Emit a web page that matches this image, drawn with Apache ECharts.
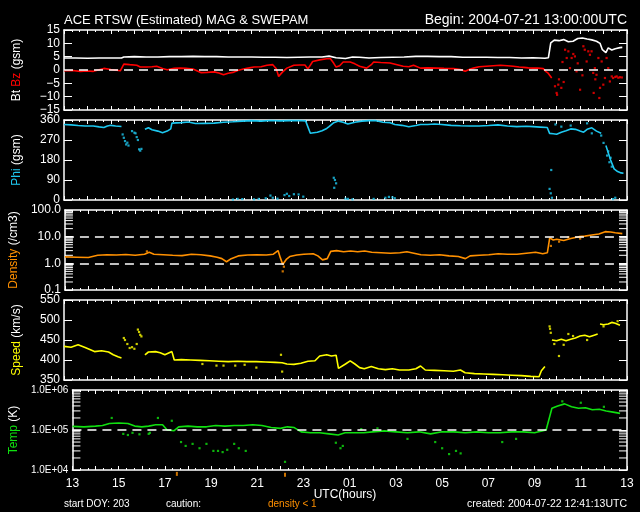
<!DOCTYPE html>
<html><head><meta charset="utf-8">
<script src="https://cdn.jsdelivr.net/npm/echarts@6/dist/echarts.min.js"></script>
<style>html,body{margin:0;padding:0;background:#000}#c{width:640px;height:512px}</style>
</head><body><div id="c"></div>
<script>
// ---- data (hours since 2004-07-21 13:00 UTC) ----
const hourLabels = ['13','15','17','19','21','23','01','03','05','07','09','11','13'];
const btData = [[0,4.5],[0.5,4.5],[1,4.4],[1.5,4.5],[2,4.5],[2.45,4.5],[2.55,4.9],[3,5.0],[3.5,4.9],[4,4.9],[4.5,5.0],[5,5.0],[5.5,5.1],[6,5.0],[6.5,5.0],[7,4.9],[7.5,4.9],[8,4.9],[8.5,4.8],[9,4.8],[9.5,4.7],[10,4.8],[10.5,4.9],[11,4.9],[11.3,5.2],[11.6,4.6],[12,4.3],[12.3,4.9],[12.6,4.8],[13,4.5],[13.5,4.7],[14,4.8],[14.5,4.9],[15,5.1],[15.5,5.1],[16,5.0],[16.5,5.0],[17,4.8],[17.5,4.8],[18,4.8],[18.5,4.7],[19,4.7],[19.5,4.5],[20,4.6],[20.5,4.4],[20.65,4.6],[20.75,10.2],[20.9,11.2],[21.1,11.0],[21.3,11.4],[21.5,10.6],[21.7,10.8],[21.9,11.8],[22.1,12.0],[22.3,11.6],[22.5,11.3],[22.7,10.8],[22.85,10.0],[22.95,7.6],[23.1,6.5],[23.2,8.3],[23.35,7.5],[23.5,8.0],[23.7,8.4],[23.8,8.5]];
const bzData = [[0,-0.3],[0.35,-0.2],[0.7,-0.5],[1.0,-0.4],[1.25,-0.5],[1.5,0.1],[1.7,0.6],[2.0,0.2],[2.4,-0.3],[2.55,2.2],[2.8,2.0],[3.1,1.8],[3.25,1.1],[3.5,1.1],[3.75,1.2],[3.95,1.4],[4.2,0.6],[4.4,0.1],[4.7,0.6],[4.95,0.7],[5.2,0.6],[5.5,0.4],[5.85,-1.0],[6.1,-0.9],[6.4,-0.7],[6.6,-1.1],[6.8,-1.8],[7.0,-1.2],[7.2,-0.9],[7.4,-0.2],[7.65,0.4],[7.9,0.8],[8.1,1.1],[8.4,1.2],[8.65,1.8],[8.9,2.0],[9.05,0.5],[9.15,-2.4],[9.3,-0.9],[9.5,0.7],[9.8,1.8],[10.05,1.9],[10.27,1.9],[10.4,0.4],[10.6,3.2],[10.9,3.8],[11.2,4.2],[11.35,4.3],[11.5,2.5],[11.6,1.1],[11.75,1.6],[11.9,3.0],[12.2,3.0],[12.4,2.3],[12.6,1.4],[12.9,0.7],[13.1,2.0],[13.2,3.0],[13.5,2.8],[13.9,2.6],[14.2,2.0],[14.46,1.4],[14.7,1.2],[14.9,1.8],[15.2,0.7],[15.5,0.8],[15.9,0.7],[16.2,0.6],[16.6,0.5],[16.9,0.2],[17.1,-0.5],[17.3,0.3],[17.45,0.7],[17.7,1.2],[18.0,1.4],[18.3,1.6],[18.6,1.8],[18.9,1.6],[19.15,1.4],[19.4,1.1],[19.6,1.0],[19.8,0.8],[20.0,0.7],[20.2,0.7],[20.43,0.5],[20.55,-0.6],[20.64,-1.2],[20.79,-3.0]];
const bzScatter = [[20.93,-6.1],[21.0,-8.6],[21.02,-9.3],[21.07,-5.5],[21.2,-6.7],[21.36,7.6],[21.43,4.5],[21.5,7.0],[21.57,0.7],[21.64,4.5],[21.71,6.0],[21.78,5.1],[21.85,-0.5],[22.0,-7.4],[22.07,0.1],[22.14,8.9],[22.2,7.6],[22.28,3.2],[22.35,7.0],[22.42,5.7],[22.49,7.0],[22.56,-1.1],[22.58,-8.6],[22.63,0.7],[22.7,-1.8],[22.78,4.5],[22.82,-10.5],[22.85,-6.7],[22.92,3.2],[22.99,-5.5],[23.06,-3.0],[23.13,4.5],[23.2,0.7],[23.27,-4.3],[23.35,-2.4],[23.41,-3.0],[23.5,-2.6],[23.56,-2.4],[23.63,-2.9],[23.7,-2.7],[23.78,-2.8],[21.1,-3.5],[21.3,-4.5],[21.9,2.5],[22.1,-2.0],[22.65,-3.5],[21.25,3.0]];
const phiData = [[0,340],[0.3,338],[0.6,335],[0.9,333],[1.25,333],[1.5,329],[1.7,326],[1.85,333],[2.0,336],[2.2,333],[2.45,331],[2.46,'-'],[3.45,318],[3.6,325],[3.75,316],[4.0,310],[4.2,303],[4.4,310],[4.55,320],[4.6,346],[5.0,348],[5.3,351],[5.6,344],[6.0,345],[6.4,346],[6.8,350],[7.2,352],[7.6,355],[8.0,357],[8.4,355],[8.8,358],[9.2,356],[9.6,357],[10.0,358],[10.3,356],[10.5,300],[10.8,305],[11.0,312],[11.2,322],[11.3,330],[11.5,348],[11.7,355],[11.9,350],[12.1,342],[12.4,350],[12.7,355],[13.0,357],[13.3,357],[13.6,350],[13.9,348],[14.1,340],[14.4,336],[14.7,330],[15.0,335],[15.2,340],[15.5,340],[15.8,342],[16.1,340],[16.5,336],[16.9,334],[17.3,333],[17.7,333],[18.1,335],[18.5,338],[18.9,333],[19.3,330],[19.7,332],[20.0,330],[20.3,328],[20.6,326],[20.7,300],[20.85,298],[21.0,296],[21.2,305],[21.4,312],[21.6,320],[21.8,318],[22.0,310],[22.15,305],[22.3,318],[22.5,325],[22.7,310],[22.9,300],[23.0,'-'],[23.1,245],[23.3,180],[23.45,140],[23.6,128],[23.75,122],[23.85,120]];
const phiScatter = [[2.5,295],[2.55,280],[2.6,265],[2.65,250],[2.7,258],[2.75,245],[2.9,310],[3.0,303],[3.05,300],[3.1,283],[3.15,270],[3.2,228],[3.25,222],[3.3,230],[7.2,2],[7.4,5],[7.6,4],[8.1,3],[8.3,5],[8.6,8],[8.8,20],[8.9,10],[9.1,6],[9.4,22],[9.5,28],[9.6,18],[9.8,26],[10.0,25],[10.2,15],[11.5,100],[11.55,90],[11.6,75],[11.52,55],[12.0,6],[12.1,5],[12.3,3],[13.2,5],[13.7,10],[13.85,14],[14.0,12],[14.1,8],[20.7,50],[20.75,30],[20.77,135],[20.8,10],[23.5,10],[23.4,4],[23.0,257],[23.15,200],[23.2,219],[23.3,190],[23.35,150],[23.25,170],[22.5,300],[22.3,345],[22.9,290],[21.6,335],[21.2,330],[20.95,340]];
const densityData = [[0,1.75],[0.5,1.7],[1.0,1.65],[1.4,2.0],[1.8,2.1],[2.2,2.05],[2.6,2.15],[3.0,2.0],[3.4,2.2],[3.6,2.6],[3.8,2.2],[4.2,2.1],[4.6,2.0],[5.0,1.95],[5.4,2.2],[5.8,2.1],[6.2,1.9],[6.5,1.7],[6.7,1.5],[6.9,1.15],[7.1,1.5],[7.4,1.9],[7.8,2.05],[8.2,2.1],[8.6,2.05],[8.9,2.2],[9.1,3.0],[9.2,1.6],[9.3,0.9],[9.45,1.4],[9.6,1.8],[9.9,2.05],[10.2,2.2],[10.6,2.3],[10.8,1.9],[11.0,1.35],[11.2,1.5],[11.35,2.8],[11.6,3.0],[11.9,2.7],[12.2,2.9],[12.5,2.7],[12.8,2.9],[13.1,2.6],[13.5,2.5],[13.9,2.4],[14.3,2.5],[14.6,2.7],[14.9,2.4],[15.2,2.1],[15.6,2.0],[16.0,2.1],[16.4,1.9],[16.8,1.8],[17.1,1.5],[17.3,1.9],[17.7,2.0],[18.1,2.1],[18.5,2.3],[18.9,2.2],[19.3,2.2],[19.7,2.4],[20.1,2.6],[20.4,2.3],[20.6,2.5],[20.7,9.0],[20.85,7.5],[21.0,8.0],[21.3,7.2],[21.6,8.5],[21.95,10],[22.2,10.5],[22.5,11.5],[22.8,12.5],[23.07,15.4],[23.3,15],[23.5,14],[23.8,13]];
const densityScatter = [[9.3,0.5],[9.35,0.75],[3.5,2.8],[20.75,4.5],[21.1,6.5],[21.5,9.5],[22.0,8.5]];
const speedData = [[0,434],[0.3,432],[0.6,438],[0.9,431],[1.3,421],[1.6,423],[1.9,420],[2.1,413],[2.3,408],[2.45,405],[2.5,'-'],[3.45,413],[3.6,420],[3.9,421],[4.1,418],[4.3,413],[4.6,421],[4.7,400],[5.0,401],[5.4,400],[5.8,399],[6.2,398],[6.6,397],[7.0,396],[7.4,397],[7.8,396],[8.2,396],[8.6,395],[9.0,394],[9.3,393],[9.5,390],[9.8,389],[10.1,392],[10.4,397],[10.7,398],[10.9,410],[11.2,413],[11.4,410],[11.6,412],[11.7,379],[12.0,390],[12.2,398],[12.4,390],[12.6,381],[12.8,378],[13.1,384],[13.4,378],[13.7,376],[14.0,378],[14.3,375],[14.7,375],[15.0,378],[15.2,385],[15.4,375],[15.8,374],[16.2,373],[16.6,372],[16.9,375],[17.1,368],[17.5,366],[17.9,365],[18.3,364],[18.7,363],[19.1,362],[19.5,361],[19.9,359],[20.25,358],[20.35,373],[20.5,384],[20.6,'-'],[20.8,450],[21.0,448],[21.2,452],[21.4,448],[21.6,452],[21.8,455],[22.0,460],[22.2,462],[22.4,458],[22.6,462],[22.75,465],[22.8,'-'],[22.85,490],[23.0,488],[23.2,490],[23.35,494],[23.5,492],[23.7,487]];
const speedScatter = [[2.55,455],[2.6,450],[2.7,440],[2.8,430],[2.9,432],[3.0,428],[3.1,440],[3.15,476],[3.2,470],[3.25,463],[3.3,459],[20.7,484],[20.72,478],[20.75,468],[20.9,440],[21.1,410],[21.3,438],[21.5,465],[21.7,460],[22.3,450],[23.0,484],[23.6,497],[5.9,390],[6.5,386],[6.8,386],[7.3,386],[7.7,388],[8.2,381],[9.25,413],[9.3,371]];
const tempData = [[0,1.23e5],[0.5,1.2e5],[1.0,1.25e5],[1.3,1.3e5],[1.6,1.45e5],[2.0,1.5e5],[2.4,1.45e5],[2.7,1.25e5],[3.0,1.2e5],[3.3,1.25e5],[3.6,1.35e5],[3.9,1.35e5],[4.1,1.0e5],[4.4,9.6e4],[4.6,1.2e5],[5.0,1.25e5],[5.4,1.2e5],[5.8,1.2e5],[6.2,1.3e5],[6.6,1.25e5],[7.0,1.3e5],[7.4,1.3e5],[7.8,1.35e5],[8.2,1.3e5],[8.6,1.15e5],[9.0,1.1e5],[9.3,1.2e5],[9.6,1.15e5],[9.9,9e4],[10.3,8.5e4],[10.7,8.5e4],[11.1,8e4],[11.5,7.5e4],[11.8,8.5e4],[12.2,8.5e4],[12.6,8.5e4],[13.0,9e4],[13.5,9.5e4],[14.0,9e4],[14.5,8.5e4],[15.0,9e4],[15.5,8e4],[16.0,9e4],[16.5,9e4],[17.0,8.5e4],[17.5,9e4],[18.0,8.5e4],[18.5,8.5e4],[19.0,9e4],[19.5,9e4],[20.0,8.5e4],[20.5,1.0e5],[20.75,3.5e5],[21.0,4.0e5],[21.3,4.5e5],[21.6,3.8e5],[21.9,3.5e5],[22.2,3.6e5],[22.5,3.2e5],[22.8,3.3e5],[23.1,3.0e5],[23.4,2.8e5],[23.7,2.6e5]];
const tempScatter = [[1.7,2e5],[2.2,8e4],[2.4,7.5e4],[2.6,8.5e4],[2.9,7.8e4],[3.3,8e4],[3.35,8.5e4],[3.7,2e5],[4.3,1.7e5],[4.7,5e4],[4.9,4e4],[5.2,4.5e4],[5.5,3.5e4],[5.8,4.5e4],[6.1,3e4],[6.3,3e4],[6.5,2.8e4],[6.7,3.2e4],[7.0,4.5e4],[7.2,3.5e4],[7.5,3e4],[9.2,1.6e4],[11.4,4.8e4],[11.6,3.5e4],[11.7,4e4],[12.5,1.05e5],[13.2,1.1e5],[14.5,6e4],[15.7,5e4],[16.0,3.5e4],[16.3,2.5e4],[16.6,3e4],[16.8,2.6e4],[18.6,5e4],[19.2,6e4],[21.2,5.2e5],[22.0,4.8e5],[23.0,3.8e5]];
const cautionMarks = [[4.52,8e3],[9.2,7.6e3]];
const densityMinor = [0.2,0.3,0.4,0.5,0.6,0.7,0.8,0.9,2,3,4,5,6,7,8,9,20,30,40,50,60,70,80,90];
const tempMinor = [2e4,3e4,4e4,5e4,6e4,7e4,8e4,9e4,2e5,3e5,4e5,5e5,6e5,7e5,8e5,9e5];

// ---- layout ----
const FONT = 'Liberation Sans';
const TOPS = [30, 120, 210, 300, 390];
const H = 80;
const chart = echarts.init(document.getElementById('c'), null, {renderer: 'canvas'});
const white = '#ffffff';
const C = {bt: '#ffffff', bz: '#ff0000', phi: '#1ec8f0', den: '#ff9000', spd: '#ffff00', tmp: '#10e010'};

const grids = TOPS.map(t => ({left: 64, right: 13, top: t, height: H, show: false}));
const xAxes = [];
TOPS.forEach((t, i) => {
  ['bottom', 'top'].forEach(pos => {
    xAxes.push({
      gridIndex: i, type: 'value', min: 0, max: 24, interval: 1, position: pos,
      axisLine: {show: true, onZero: false, lineStyle: {color: white, width: 1.5}},
      axisTick: {show: true, inside: true, length: 4, lineStyle: {color: white}},
      minorTick: {show: true, splitNumber: 3, length: 2, lineStyle: {color: white}},
      splitLine: {show: false},
      axisLabel: {
        show: i === 4 && pos === 'bottom', color: white, fontFamily: FONT, fontSize: 12, margin: 8,
        formatter: v => (v % 2 === 0 ? hourLabels[v / 2] : '')
      }
    });
  });
});
const yDefs = [
  {type: 'value', min: -15, max: 15, interval: 5, fmt: v => (v < 0 ? '\u2212' + (-v) : String(v)),
   name: '{w|Bt }{r|Bz}{w| (gsm)}'},
  {type: 'value', min: 0, max: 360, interval: 90, fmt: v => String(v), name: '{c|Phi}{w| (gsm)}'},
  {type: 'log', min: 0.1, max: 100, fmt: v => Number(v).toFixed(1), name: '{o|Density}{w| (/cm3)}'},
  {type: 'value', min: 350, max: 550, interval: 50, fmt: v => String(v), name: '{y|Speed}{w| (km/s)}'},
  {type: 'log', min: 1e4, max: 1e6, fmt: v => '1.0E+' + String(Math.round(Math.log10(v))).padStart(2, '0'),
   name: '{g|Temp}{w| (K)}', small: true}
];
const rich = {
  w: {color: white, fontFamily: FONT, fontSize: 12},
  r: {color: C.bz, fontFamily: FONT, fontSize: 12},
  c: {color: C.phi, fontFamily: FONT, fontSize: 12},
  o: {color: C.den, fontFamily: FONT, fontSize: 12},
  y: {color: C.spd, fontFamily: FONT, fontSize: 12},
  g: {color: C.tmp, fontFamily: FONT, fontSize: 12}
};
const yAxes = [];
yDefs.forEach((d, i) => {
  ['left', 'right'].forEach(pos => {
    const ax = {
      gridIndex: i, type: d.type, min: d.min, max: d.max, position: pos,
      axisLine: {show: true, onZero: false, lineStyle: {color: white, width: 1.5}},
      axisTick: {show: true, inside: true, length: 8, lineStyle: {color: white}},
      splitLine: {show: false},
      axisLabel: {show: pos === 'left', color: white, fontFamily: FONT, fontSize: d.small ? 10 : 12, margin: 4,
        formatter: d.fmt, showMinLabel: true, showMaxLabel: true}
    };
    if (d.interval) ax.interval = d.interval;
    if (d.type === 'log') ax.logBase = 10;
    if (pos === 'left') {
      ax.name = d.name; ax.nameLocation = 'middle'; ax.nameRotate = 90; ax.nameGap = 41;
      ax.nameTextStyle = {rich: rich};
    }
    yAxes.push(ax);
  });
});

function lineS(i, data, color, extra) {
  return Object.assign({type: 'line', xAxisIndex: i * 2, yAxisIndex: i * 2, data: data, showSymbol: false,
    symbol: 'none', connectNulls: false, lineStyle: {color: color, width: 1.6}, z: 3, silent: true}, extra || {});
}
function dotS(i, data, color) {
  return {type: 'scatter', xAxisIndex: i * 2, yAxisIndex: i * 2, data: data, symbol: 'rect', symbolSize: 2.2,
    itemStyle: {color: color}, z: 3, silent: true};
}
function dashML(vals) {
  return {silent: true, symbol: 'none', label: {show: false},
    lineStyle: {color: white, type: [9, 6], width: 1.5}, data: vals.map(v => ({yAxis: v}))};
}
function minorS(i, vals) {
  return {type: 'custom', xAxisIndex: i * 2, yAxisIndex: i * 2, silent: true, z: 4,
    data: vals.map(v => [0, v]),
    renderItem: (params, api) => {
      const v = api.value(1);
      const a = api.coord([0, v]);
      const b = api.coord([24, v]);
      const st = {stroke: white, lineWidth: 1};
      return {type: 'group', children: [
        {type: 'line', shape: {x1: a[0], y1: a[1], x2: a[0] + 8, y2: a[1]}, style: st},
        {type: 'line', shape: {x1: b[0] - 8, y1: b[1], x2: b[0], y2: b[1]}, style: st}
      ]};
    }};
}

const series = [
  lineS(0, btData, C.bt),
  lineS(0, bzData, C.bz, {markLine: dashML([0])}),
  dotS(0, bzScatter, C.bz),
  lineS(1, phiData, C.phi),
  dotS(1, phiScatter, C.phi),
  lineS(2, densityData, C.den, {markLine: dashML([1, 10])}),
  dotS(2, densityScatter, C.den),
  minorS(2, densityMinor),
  lineS(3, speedData, C.spd),
  dotS(3, speedScatter, C.spd),
  lineS(4, tempData, C.tmp, {markLine: dashML([1e5])}),
  dotS(4, tempScatter, C.tmp),
  minorS(4, tempMinor),
  Object.assign(dotS(4, cautionMarks, C.den), {clip: false, symbolSize: [2, 4]})
];

const txt = (x, y, s, opt) => ({type: 'text', x: x, y: y,
  style: Object.assign({text: s, fill: white, font: '13px "' + FONT + '"', textVerticalAlign: 'middle'}, opt || {})});

chart.setOption({
  backgroundColor: '#000000',
  animation: false,
  grid: grids,
  xAxis: xAxes,
  yAxis: yAxes,
  series: series,
  graphic: [
    txt(64, 20, 'ACE RTSW (Estimated) MAG & SWEPAM'),
    txt(627, 20, 'Begin: 2004-07-21 13:00:00UTC', {textAlign: 'right', font: '14px "' + FONT + '"'}),
    txt(345, 495, 'UTC(hours)', {textAlign: 'center', font: '12px "' + FONT + '"'}),
    txt(64, 504, 'start DOY: 203', {font: '10px "' + FONT + '"'}),
    txt(166, 504, 'caution:', {font: '10px "' + FONT + '"'}),
    txt(268, 504, 'density < 1', {font: '10px "' + FONT + '"', fill: C.den}),
    txt(627, 504, 'created: 2004-07-22 12:41:13UTC', {textAlign: 'right', font: '10.5px "' + FONT + '"'})
  ]
});
</script></body></html>
